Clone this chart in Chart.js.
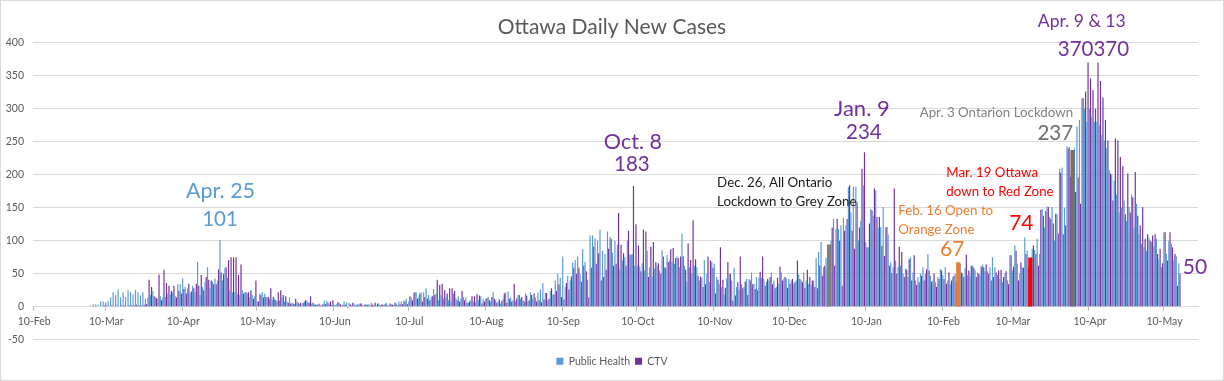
<!DOCTYPE html>
<html><head><meta charset="utf-8">
<script src="https://cdn.jsdelivr.net/npm/chart.js@4.4.1/dist/chart.umd.min.js"></script>
<style>html,body{margin:0;padding:0;background:#fff;}canvas{display:block;}</style>
</head><body>
<canvas id="c" width="1224" height="381"></canvas>
<script>
// ---- axis / categories ----
const startYear = 2020, startMonth = 1, startDay = 10; // 10-Feb-2020
const axisDays = 469;
const tickLabels = ['10-Feb','10-Mar','10-Apr','10-May','10-Jun','10-Jul','10-Aug','10-Sep','10-Oct','10-Nov','10-Dec','10-Jan','10-Feb','10-Mar','10-Apr','10-May'];
const yTicks = {min: -50, max: 400, step: 50};

// ---- series (daily, from 10-Feb-2020) ----
const publicHealth = [
1,0,0,0,0,0,0,0,0,0, 1,0,1,0,1,0,0,0,0,0, 1,1,1,2,4,4,3,8,8,
7,8,14,22,18,26,14,22,15,25, 22,19,25,22,17,22,12, 14,18,24,15,12,16,14,15,20,19,22,16,34,34,
43,30,28,20,32,22,68,18,30,38,60,28,38,43,40,101, 40,59,44,25,22,22,20,18,25,22,20,15,18,16,
8,20,22,20,14,12,10,12,8,10, 14,8,8,14,6,4,8,4,2,8, 9,6,5,4,3,5,3,9,9,4, 3,
3,4,6,2,8,7,6,2,5,3, 4,5,2,3,4,6,3,2,5,4, 3,6,2,4,3,5,8,8,10,12,
8,14,21,22,15,22,22,28,18,14, 27,20,10,18,12,15,10,8,20,13, 16,12,15,14,6,10,8,6,10,16, 12,
12,15,8,22,10,8,5,12,22,23, 14,10,8,18,12,10,20,8,22,12, 14,22,26,36,21,10,24,18,40,50, 44,
76,30,47,40,67,71,76,49,87,68, 41,108,108,104,100,117,85,80,114,106, 82,100,94, 57,70,75,100,79,80,62,
62,61,66,55,85,60,46,58,62,55, 86,60,78,70,68,65,76,60,111,62, 38, 60,50,62,60,40,44,71,50,37,68,
65,45,34,30,19,43,49,40,59,30, 25,34,30,42,42,52,35,45,44,44, 42,38,40,52,40,30,35,52,43,43,
42,40,35,40,49,40,52,40,35,33, 40,74,83,98,60,74,90, 100,133,118,118,123,135,123,181,143,182, 182,100,130,184,
98,90,148,138,176,120,121,151,120,110, 67,60,70,60,62,50,58,45,75,52, 40,45,50,60,50,80,47,40,37,45, 57,
48,60,40,34,45,50,60,65,50,59, 48,47,62,55,52,48,64,54, 54,60,75,60,48,42,37,50,40,78,
55,93,65,50,60,105,85,74, 88,86,103,80,148,120,152,136,151,100, 140,209,211,150,243,242, 237,240,273,283,316,300,280,
300,288,280, 280,275,260,252,240,207,200,191,170,143, 150,161,130,151,170,120,156,110,95,90, 85,105,98,92,103,72,60,
113,80,100,95,70,76,66
];
const ctv = [
0,0,0,0,0,0,0,0,0,0, 0,0,0,0,0,0,0,0,0,0, 0,0,1,0,1,1,1,1,2,
2,1,2,1,2,1,2,2,1,2, 2,2,3,2,2,3,4, 41,30,16,13,49,10,56,36,32,24,32,14,24,20,
27,20,35,23,28,35,32,48,25,45,41,40,34,34,57,52, 50,60,71,75,75,75,48,64,20,22,22,25,12,40,
8,18,14,15,15,28,15,10,22,25, 18,16,6,5,5,12,6,6,6,10, 6,16,6,3,4,2,4,4,6,8, 10,
2,7,4,3,3,-2,4,6,2,3, 5,2,4,3,2,3,6,5,2,3, 4,2,5,3,6,2,4,4,8,4,
16,10,22,12,20,8,15,12,10,16, 18,41,33,35,25,20,28,28,24,10, 8,24,10,6,8,16,16,19,17,5, 8,
13,10,15,12,6,11,9,20,6,12, 8,35,12,18,15,8,17,10,18,20, 8,10,7,11,21,12,28,19,24,34, 15,
11,36,26,46,59,50,59,38,62,54, 14,59,91,65,81,40,45,56,88,103, 62,65,142, 94,81,62,115,79,183,125,
93,54,117,114,45,91,98,68,66,50, 76,59,68,87,89,74,74,76,76,56, 96, 71,131,72,47,46,30,34,76,70,59,
20,41,90,41,29,68,50,9,17,37, 76,28,38,18,40,34,27,25,53,76, 32,42,45,34,28,44,61,40,45,29,
35,42,37,70,42,37,29,56,45,40, 30,28,62,47,62,59,59, 120,62,133,100,32,115,133,184,115,88, 159,120,209,234,
90,126,146,179,136,136,92,77,121,62, 51,179,50,91,83,45,56,72,40,78, 33,37,47,40,57,55,38,50,30,42, 55,
42,35,52,40,47,38,55,52,45,79, 55,62,59,45,50,61,60,64, 50,40,45,52,55,56,45,54,34,78,
61,85,40,67,59,80,60,74, 93,80,62,147,138,145,151,133,126,141, 111,203,110,123,240,197, 185,174,196,156,316,326,370,
346,328,300, 370,342,317,283,252,202,161,255,252,227, 213,140,202,143,166,204,138,123,151,103, 110,100,108,110,80,88,66,
113,70,113,90,80,32,50
];
// highlighted event days
const highlightDates  = ['2020-12-26','2021-02-16','2021-03-17','2021-04-03'];
const highlightValues = [94, 67, 74, 237];
const highlightColors = ['#7F7F7F','#ED7D31','#FF0000','#767171'];

// ---- build categories ----
const categories = [];
for (let i = 0; i < axisDays; i++) {
  const d = new Date(Date.UTC(startYear, startMonth, startDay + i));
  categories.push(d.toISOString().slice(0, 10));
}
const tickMap = {};
{ let k = 0; categories.forEach((c, i) => { if (c.slice(8) === '10' && k < tickLabels.length) tickMap[i] = tickLabels[k++]; }); }
const highlightData = categories.map(() => null);
const highlightBg = categories.map(() => 'rgba(0,0,0,0)');
highlightDates.forEach((d, j) => { const i = categories.indexOf(d); highlightData[i] = highlightValues[j]; highlightBg[i] = highlightColors[j]; });
const dayIndex = s => categories.indexOf(s);

const BLUE = '#5B9BD5', PURPLE = '#7030A0', ORANGE = '#ED7D31', RED = '#FF0000';
const FONT = 'Lato, "Open Sans", sans-serif';

// ---- annotation texts (anchored to day + value) ----
const notes = [
 {t:'Apr. 25', d:'2020-04-25', dx:0, v:175.4, c:BLUE, s:21.5, a:'center'},
 {t:'101', d:'2020-04-25', dx:-0.5, v:133, c:BLUE, s:20.5, a:'center'},
 {t:'Oct. 8', d:'2020-10-08', dx:0, v:250, c:PURPLE, s:21.5, a:'center'},
 {t:'183', d:'2020-10-08', dx:-1, v:215.7, c:PURPLE, s:20.5, a:'center'},
 {t:'Dec. 26, All Ontario', d:'2020-12-26', dx:-112, v:188.4, c:'#1a1a1a', s:13.3, a:'left'},
 {t:'Lockdown to Grey Zone', d:'2020-12-26', dx:-112, v:159.5, c:'#1a1a1a', s:13.3, a:'left'},
 {t:'Jan. 9', d:'2021-01-09', dx:-2, v:300, c:PURPLE, s:22, a:'center'},
 {t:'234', d:'2021-01-09', dx:0, v:264.3, c:PURPLE, s:20.5, a:'center'},
 {t:'Apr. 3 Ontarion Lockdown', d:'2021-04-03', dx:0.5, v:294.7, c:'#808080', s:13.3, a:'right'},
 {t:'237', d:'2021-04-03', dx:0.5, v:262.8, c:'#6E6E6E', s:20.5, a:'right'},
 {t:'Mar. 19 Ottawa', d:'2021-03-17', dx:-84, v:203.6, c:RED, s:13.3, a:'left'},
 {t:'down to Red Zone', d:'2021-03-17', dx:-84, v:174.7, c:RED, s:13.3, a:'left'},
 {t:'Feb. 16 Open to', d:'2021-02-16', dx:-60, v:145, c:ORANGE, s:13.3, a:'left'},
 {t:'Orange Zone', d:'2021-02-16', dx:-60, v:116.2, c:ORANGE, s:13.3, a:'left'},
 {t:'67', d:'2021-02-16', dx:-6, v:86.6, c:ORANGE, s:21, a:'center'},
 {t:'74', d:'2021-03-17', dx:-9, v:126, c:RED, s:21, a:'center'},
 {t:'Apr. 9 & 13', d:'2021-04-09', dx:-5.7, v:433, c:PURPLE, s:17.5, a:'center'},
 {t:'370370', d:'2021-04-09', dx:6, v:389.6, c:PURPLE, s:20.5, a:'center'},
 {t:'50', d:'2021-05-16', dx:3.5, v:60, c:PURPLE, s:21, a:'left'}
];

const frame = {
  id: 'frame',
  beforeDraw(chart) {
    const g = chart.ctx; g.save();
    g.fillStyle = '#fff'; g.fillRect(0, 0, chart.width, chart.height);
    g.strokeStyle = '#D9D9D9'; g.lineWidth = 1; g.strokeRect(0.5, 0.5, chart.width - 1, chart.height - 1);
    g.restore();
  },
  afterDraw(chart) {
    const g = chart.ctx, xs = chart.scales.x, ys = chart.scales.y;
    g.save(); g.textBaseline = 'middle';
    notes.forEach(n => {
      g.font = n.s + 'px ' + FONT; g.fillStyle = n.c; g.textAlign = n.a;
      g.fillText(n.t, xs.getPixelForValue(dayIndex(n.d)) + n.dx, ys.getPixelForValue(n.v));
    });
    g.restore();
  }
};

new Chart(document.getElementById('c'), {
  type: 'bar',
  data: {
    labels: categories,
    datasets: [
      {label: 'Public Health', data: publicHealth, backgroundColor: BLUE, order: 1, categoryPercentage: 0.95, barPercentage: 1.0},
      {label: 'CTV', data: ctv, backgroundColor: PURPLE, order: 2, categoryPercentage: 0.95, barPercentage: 1.0},
      {label: 'Events', data: highlightData, backgroundColor: highlightBg, order: 0, grouped: false, barThickness: 3.6}
    ]
  },
  options: {
    responsive: false, animation: false, events: [],
    layout: {padding: {left: 0, right: 0, top: 0, bottom: 4.5}},
    plugins: {
      tooltip: {enabled: false},
      title: {display: true, text: 'Ottawa Daily New Cases', color: '#595959',
              font: {family: FONT, size: 21, weight: 'normal'}, padding: {top: 14.4, bottom: 3.1}},
      legend: {position: 'bottom',
        title: {display: true, text: ' ', font: {size: 6}, padding: {top: 4, bottom: 0}},
        labels: {filter: it => it.datasetIndex < 2, boxWidth: 7, boxHeight: 7, padding: 5,
                 color: '#595959', font: {family: FONT, size: 10.5}}}
    },
    scales: {
      x: {
        position: {y: 0}, offset: true,
        grid: {display: true, offset: true, drawOnChartArea: false, drawTicks: true, tickLength: 4,
               color: c => (tickMap[c.index] ? '#BFBFBF' : 'rgba(0,0,0,0)')},
        border: {display: true, color: '#D9D9D9'},
        ticks: {autoSkip: false, maxRotation: 0, minRotation: 0, padding: 4.5, color: '#595959',
                font: {family: FONT, size: 10.5}, callback: (v, i) => tickMap[i] || ''}
      },
      y: {
        min: yTicks.min, max: yTicks.max,
        ticks: {stepSize: yTicks.step, padding: 9, color: '#595959', font: {family: FONT, size: 10.5}},
        grid: {color: '#D9D9D9', drawTicks: false},
        border: {display: false},
        afterFit: s => { s.width = 33; }
      },
      yRight: {
        position: 'right', display: true,
        grid: {display: false, drawTicks: false}, border: {display: false}, ticks: {display: false},
        afterFit: s => { s.width = 26; }
      }
    }
  },
  plugins: [frame]
});
</script>
</body></html>
